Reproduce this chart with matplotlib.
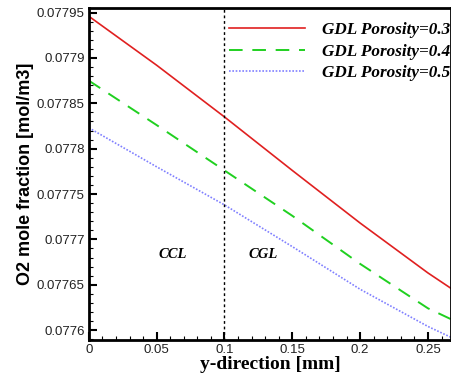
import matplotlib
matplotlib.use("Agg")
import matplotlib.pyplot as plt
import numpy as np
from matplotlib.ticker import MultipleLocator

# data
y_pos = [0.0, 0.05, 0.1, 0.15, 0.2, 0.25, 0.267]
o2_03 = [0.077946, 0.077892, 0.077835, 0.077776, 0.077718, 0.077663, 0.077646]
o2_04 = [0.077875, 0.077826, 0.077776, 0.077726, 0.077673, 0.077624, 0.077612]
o2_05 = [0.077823, 0.077780, 0.077738, 0.077692, 0.077645, 0.077604, 0.077592]
labels = ["GDL Porosity=0.3", "GDL Porosity=0.4", "GDL Porosity=0.5"]

fig = plt.figure(figsize=(4.51, 3.77), dpi=100)
ax = fig.add_axes([0.197, 0.098, 0.803, 0.881])

ax.plot(y_pos, o2_03, color="#e02020", lw=1.2, label=labels[0])
ax.plot(y_pos, o2_04, color="#20d020", lw=1.4, ls=(0, (7, 5)), label=labels[1])
ax.plot(y_pos, o2_05, color="#8080ff", lw=1.2, ls=(0, (1, 1)), label=labels[2])
ax.axvline(0.1, color="black", lw=1.0, ls=(0, (2, 2)))

ax.text(0.062, 0.077683, "CCL", fontfamily="Liberation Serif", fontstyle="italic",
        fontweight="bold", fontsize=10.5, ha="center", va="center")
ax.text(0.1287, 0.077683, "CGL", fontfamily="Liberation Serif", fontstyle="italic",
        fontweight="bold", fontsize=10.5, ha="center", va="center")

ax.set_xlim(0, 0.267)
ax.set_ylim(0.077589, 0.0779552)
ax.xaxis.set_minor_locator(MultipleLocator(0.01))
ax.yaxis.set_minor_locator(MultipleLocator(0.00001))
ax.set_xticks([0, 0.05, 0.1, 0.15, 0.2, 0.25])
ax.set_xticklabels(["0", "0.05", "0.1", "0.15", "0.2", "0.25"])
yt = [0.0776, 0.07765, 0.0777, 0.07775, 0.0778, 0.07785, 0.0779, 0.07795]
ax.set_yticks(yt)
ax.set_yticklabels(["0.0776", "0.07765", "0.0777", "0.07775", "0.0778",
                    "0.07785", "0.0779", "0.07795"])
ax.tick_params(which="major", direction="in", length=6, width=1.5, labelsize=9.5,
               labelcolor="#222222", pad=3)
ax.tick_params(which="minor", direction="in", length=3, width=0.8)
for lab in ax.get_xticklabels() + ax.get_yticklabels():
    lab.set_fontfamily("Liberation Sans")
for s in ax.spines.values():
    s.set_linewidth(2)

ax.set_ylabel("O2 mole fraction [mol/m3]", fontfamily="Liberation Sans",
              fontweight="bold", fontsize=13, labelpad=2)
ax.set_xlabel("y-direction [mm]", fontfamily="Liberation Serif",
              fontweight="bold", fontsize=14, labelpad=0)

leg = ax.legend(loc="upper right", bbox_to_anchor=(1.022, 0.982),
                frameon=False, handlelength=4.45,
                prop={"family": "Liberation Serif", "style": "italic",
                      "weight": "bold", "size": 12.3},
                borderaxespad=0.2, borderpad=0.3, labelspacing=0.3,
                handletextpad=1.0)

fig.savefig("out.png", dpi=100)
